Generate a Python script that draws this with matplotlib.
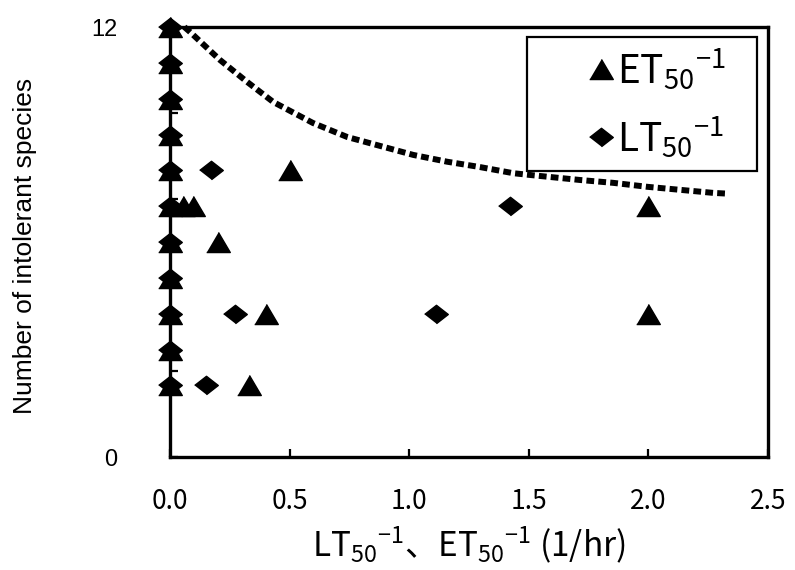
import matplotlib
matplotlib.use("Agg")
import matplotlib.pyplot as plt
from matplotlib.lines import Line2D
from matplotlib.patches import Rectangle

plt.rcParams['font.family'] = ['Noto Sans CJK JP', 'DejaVu Sans']
plt.rcParams['mathtext.fontset'] = 'custom'
plt.rcParams['mathtext.rm'] = 'Noto Sans CJK JP'
plt.rcParams['mathtext.it'] = 'Noto Sans CJK JP'
plt.rcParams['mathtext.bf'] = 'Noto Sans CJK JP'

# ---- data ----
et_x = [0, 0, 0, 0, 0, 0, 0, 0, 0, 0, 0, 0.055, 0.097, 0.5, 0.2, 0.4, 0.33, 2.0, 2.0]
et_y = [2, 3, 4, 5, 6, 7, 8, 9, 10, 11, 12, 7, 7, 8, 6, 4, 2, 7, 4]
lt_x = [0, 0, 0, 0, 0, 0, 0, 0, 0, 0, 0, 0.17, 1.42, 0.27, 1.11, 0.15]
lt_y = [2, 3, 4, 5, 6, 7, 8, 9, 10, 11, 12, 8, 7, 4, 4, 2]
curve_x = [0.06, 0.084, 0.209, 0.322, 0.431, 0.598, 0.741, 0.879, 1.017, 1.159,
           1.297, 1.435, 1.506, 1.715, 1.854, 1.996, 2.272, 2.33]
curve_y = [12.0, 11.86, 11.08, 10.47, 9.91, 9.32, 8.93, 8.68, 8.43, 8.24,
           8.09, 7.92, 7.87, 7.73, 7.65, 7.54, 7.37, 7.35]
x_ticks = [0.0, 0.5, 1.0, 1.5, 2.0, 2.5]
x_tick_labels = ['0.0', '0.5', '1.0', '1.5', '2.0', '2.5']
y_ticks = [0, 2.4, 4.8, 7.2, 9.6, 12]
y_tick_labels = ['0', '', '', '', '', '12']
et_label = r'ET$_{50}$$^{-1}$'
lt_label = r'LT$_{50}$$^{-1}$'
x_label = r'LT$_{50}$$^{-1}$、ET$_{50}$$^{-1}$ (1/hr)'
y_label = 'Number of intolerant species'

tri = [(-1, -0.85), (1, -0.85), (0, 0.85)]
dia = [(-1, 0), (0, 0.78), (1, 0), (0, -0.78)]
latin = ['Liberation Sans', 'DejaVu Sans']

fig = plt.figure(figsize=(7.95, 5.70), dpi=100)
ax = fig.add_axes([170/795, 113/570, 598/795, 430/570])

ax.plot(curve_x, curve_y, color='black', lw=4.3, linestyle=(0, (1.3, 0.7)),
        dash_capstyle='butt', zorder=2, clip_on=False)
ax.plot(lt_x, lt_y, linestyle='none', marker=dia, ms=17, color='black',
        clip_on=False, zorder=3)
ax.plot(et_x, et_y, linestyle='none', marker=tri, ms=17, color='black',
        clip_on=False, zorder=4)

ax.set_xlim(0, 2.5)
ax.set_ylim(0, 12)
ax.set_xticks(x_ticks)
ax.set_xticklabels(x_tick_labels)
ax.set_yticks(y_ticks)
ax.set_yticklabels(y_tick_labels)
ax.tick_params(axis='x', direction='in', length=6, width=1.6, pad=22, labelsize=19)
ax.tick_params(axis='y', direction='in', length=6, width=1.6, pad=38, labelsize=17)
for lab in ax.get_yticklabels():
    lab.set_family(latin)
for s in ax.spines.values():
    s.set_linewidth(2.4)
    s.set_color('black')

ax.set_ylabel(y_label, fontsize=19, family=latin)
ax.yaxis.set_label_coords(-0.222, 0.49)
ax.set_xlabel(x_label, fontsize=24)
ax.xaxis.label.set_va('center')
ax.xaxis.set_label_coords(0.5, -0.205)

# legend frame (fixed box) and entries
ax.add_patch(Rectangle((0.597, 0.665), 0.385, 0.312, transform=ax.transAxes,
                       facecolor='white', edgecolor='black', lw=1.6, zorder=5,
                       clip_on=False))
handles = [Line2D([], [], linestyle='none', marker=tri, ms=17, color='black'),
           Line2D([], [], linestyle='none', marker=dia, ms=17, color='black')]
leg = ax.legend(handles, [et_label, lt_label], loc='center left',
                bbox_to_anchor=(0.698, 0.822), fontsize=28, frameon=False,
                handlelength=0.7, handletextpad=0.05, borderpad=0,
                labelspacing=0.6, borderaxespad=0)
leg.set_zorder(6)

fig.savefig('out.png', dpi=100)
